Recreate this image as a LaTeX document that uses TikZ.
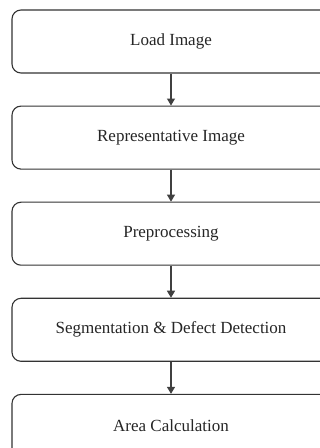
\documentclass[tikz,border=0pt]{standalone}
\usepackage{fontspec}
\setmainfont{Liberation Serif}
\usetikzlibrary{positioning,arrows.meta}
\begin{document}
\begin{tikzpicture}[
    x=1pt, y=1pt,
    stage/.style={draw=black!80, line width=1.1pt, rounded corners=9pt, fill=white,
        minimum width=318pt, minimum height=63pt,
        font=\fontsize{17}{20}\selectfont, text=black!85},
    flow/.style={draw=black!75, line width=1.1pt, -{Triangle[width=8pt,length=7pt]}},
    node distance=32pt
]
    \useasboundingbox (0,0) rectangle (320,448);
    \clip (0,0) rectangle (320,448);
    \fill[white] (0,0) rectangle (320,448);

    % Stages
    \node[stage] (load) at (171,406.5) {Load Image};
    \node[stage, below=of load] (repr) {Representative Image};
    \node[stage, below=of repr] (prep) {Preprocessing};
    \node[stage, below=of prep] (seg) {Segmentation \& Defect Detection};
    \node[stage, below=of seg] (area) {Area Calculation};

    % Edges
    \draw[flow] (load) -- (repr);
    \draw[flow] (repr) -- (prep);
    \draw[flow] (prep) -- (seg);
    \draw[flow] (seg) -- (area);
\end{tikzpicture}
\end{document}
